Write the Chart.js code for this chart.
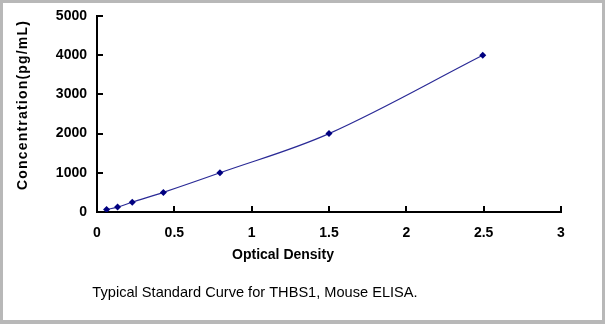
<!DOCTYPE html>
<html>
<head>
<meta charset="utf-8">
<script src="https://cdn.jsdelivr.net/npm/chart.js@4.4.1/dist/chart.umd.min.js"></script>
<style>
  html, body { margin: 0; padding: 0; background: #fff; }
  #frame {
    width: 605px; height: 324px; box-sizing: border-box;
    border: 3px solid #b8b8b8; border-bottom-width: 4px; background: #fff;
  }
  #frame canvas { display: block; }
</style>
</head>
<body>
<div id="frame"><canvas id="curveChart" width="599" height="317"></canvas></div>
<script>
// standard curve points (OD vs concentration)
const opticalDensity = [0.062, 0.133, 0.228, 0.429, 0.795, 1.5, 2.494];
const concentration = [62.5, 125, 250, 500, 1000, 2000, 4000];

const xTicks = [0, 0.5, 1, 1.5, 2, 2.5, 3];
const yTicks = [0, 1000, 2000, 3000, 4000, 5000];

const xTitle = 'Optical Density';
const yTitle = 'Concentration(pg/mL)';
const caption = 'Typical Standard Curve for THBS1, Mouse ELISA.';

const FONT = '"Liberation Sans", Arial, sans-serif';

// ticks point inward, and titles sit where the original had them
const extrasPlugin = {
    id: 'extras',
    afterDraw(chart) {
        const c = chart.ctx;
        const x = chart.scales.x;
        const y = chart.scales.y;
        const area = chart.chartArea;
        c.save();
        c.strokeStyle = '#000';
        c.lineWidth = 2;
        xTicks.forEach(v => {
            const px = Math.round(x.getPixelForValue(v));
            c.beginPath();
            c.moveTo(px, area.bottom);
            c.lineTo(px, area.bottom - 6);
            c.stroke();
        });
        yTicks.forEach(v => {
            const py = Math.round(y.getPixelForValue(v));
            c.beginPath();
            c.moveTo(area.left, py);
            c.lineTo(area.left + 6, py);
            c.stroke();
        });

        c.fillStyle = '#000';
        c.textAlign = 'center';
        c.textBaseline = 'alphabetic';
        c.font = 'bold 14px ' + FONT;
        c.fillText(xTitle, 280, 256);

        c.font = '14.6px ' + FONT;
        c.fillText(caption, 252, 294);

        c.translate(24, 102);
        c.rotate(-Math.PI / 2);
        c.font = 'bold 14px ' + FONT;
        c.letterSpacing = '1.2px';
        c.fillText(yTitle, 0, 0);
        c.restore();
    }
};

const ctx = document.getElementById('curveChart').getContext('2d');

const curveChart = new Chart(ctx, {
    type: 'line',
    data: {
        datasets: [{
            data: opticalDensity.map((od, i) => ({ x: od, y: concentration[i] })),
            borderColor: '#2a2a96',
            borderWidth: 1.2,
            backgroundColor: '#000080',
            pointStyle: 'rectRot',
            pointRadius: 3.5,
            pointBorderWidth: 0,
            pointBackgroundColor: '#000080',
            tension: 0.35,
            fill: false
        }]
    },
    options: {
        responsive: false,
        animation: false,
        layout: { padding: { left: 0, right: 41, top: 13, bottom: 0 } },
        plugins: {
            legend: { display: false },
            tooltip: { enabled: false }
        },
        scales: {
            x: {
                type: 'linear',
                min: 0,
                max: 3,
                afterFit: s => { s.height = 108; s.paddingLeft = 0; s.paddingRight = 0; },
                afterBuildTicks: s => { s.ticks = xTicks.map(v => ({ value: v })); },
                grid: { display: false, drawTicks: false },
                border: { display: true, color: '#000', width: 2 },
                ticks: {
                    color: '#000',
                    padding: 13,
                    font: { family: FONT, size: 14, weight: 'bold' },
                    callback: v => String(v)
                }
            },
            y: {
                min: 0,
                max: 5000,
                afterFit: s => { s.width = 94; s.paddingTop = 0; s.paddingBottom = 0; },
                afterBuildTicks: s => { s.ticks = yTicks.map(v => ({ value: v })); },
                grid: { display: false, drawTicks: false },
                border: { display: true, color: '#000', width: 2 },
                ticks: {
                    color: '#000',
                    padding: 10,
                    font: { family: FONT, size: 14, weight: 'bold' },
                    callback: v => String(v)
                }
            }
        }
    },
    plugins: [extrasPlugin]
});
</script>
</body>
</html>
